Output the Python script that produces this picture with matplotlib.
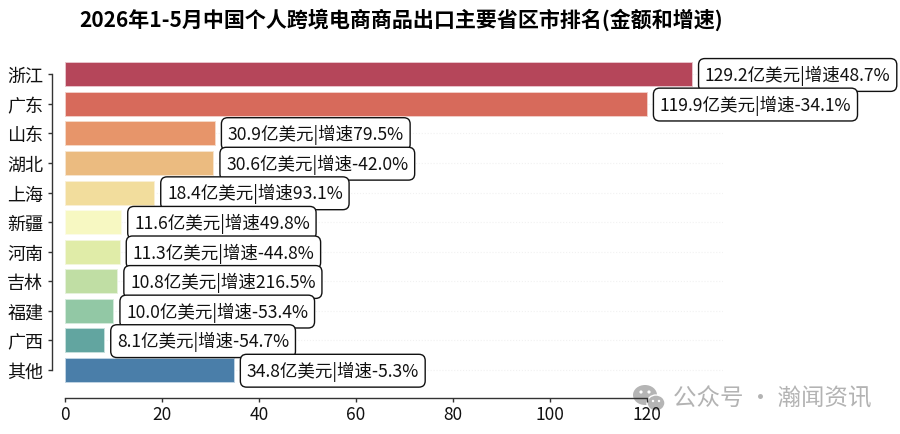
import matplotlib
matplotlib.use("Agg")
import matplotlib.pyplot as plt
from matplotlib.patches import Ellipse, Circle

plt.rcParams['font.family'] = ['Noto Sans CJK SC', 'DejaVu Sans']

regions = ['浙江', '广东', '山东', '湖北', '上海', '新疆', '河南', '吉林', '福建', '广西', '其他']
amounts = [129.2, 119.9, 30.9, 30.6, 18.4, 11.6, 11.3, 10.8, 10.0, 8.1, 34.8]
growth = ['48.7', '-34.1', '79.5', '-42.0', '93.1', '49.8', '-44.8', '216.5', '-53.4', '-54.7', '-5.3']
bar_colors = ['#b5465a', '#d76a5b', '#e7956a', '#ebbb80', '#f2dd9d', '#f7f8c2',
              '#e0eca8', '#c0dea4', '#92c8a5', '#62a5a0', '#4a7ea9']
edge_colors = ['#e8c4cb', '#f2cdc7', '#f6d9c7', '#f7e5cf', '#faf0d6', '#fcfce8',
               '#f3f7dc', '#e6f2dc', '#d4ebdc', '#c5dfdc', '#bfd3e3']

W, H = 900, 435
fig = plt.figure(figsize=(W / 100, H / 100), dpi=100)

# Account mark in the lower right corner, underneath the chart axes
overlay = fig.add_axes([0, 0, 1, 1], facecolor='none', zorder=0)
overlay.set_xlim(0, W)
overlay.set_ylim(H, 0)
overlay.axis('off')
overlay.add_patch(Ellipse((645, 396), 24, 20, facecolor='#b5b5b5', edgecolor='none'))
overlay.add_patch(Ellipse((656, 404), 18, 16, facecolor='#b5b5b5', edgecolor='white', linewidth=1))
for cx, cy, r in [(641, 393, 1.6), (649, 393, 1.6), (653, 402, 1.2), (659, 402, 1.2)]:
    overlay.add_patch(Circle((cx, cy), r, facecolor='white', edgecolor='none'))
overlay.text(673, 399, '公众号 · 瀚闻资讯', ha='left', va='center', fontsize=16.9, color='#b3b3b3')

ax = fig.add_axes([64.8 / W, 1 - 398.7 / H, (723.3 - 64.8) / W, (398.7 - 56) / H], facecolor='none', zorder=1)

ypos = list(range(len(regions)))
ax.barh(ypos, amounts, height=0.81, color=bar_colors, edgecolor=edge_colors, linewidth=0.7, zorder=2)

ax.set_xlim(0, 135.66)
ax.set_ylim(10 + (398.7 - 371) / 29.6, -(75.3 - 56) / 29.6)
ax.set_yticks(ypos, regions)
ax.set_xticks(range(0, 121, 20))
ax.tick_params(axis='both', length=3, width=1, color='#333333', labelcolor='#111111')
ax.tick_params(axis='x', labelsize=12.5, pad=2)
ax.tick_params(axis='y', labelsize=13, pad=3.5)

# Trimmed spines, with the category axis pulled away from the bars
for side in ('top', 'right'):
    ax.spines[side].set_visible(False)
ax.spines['left'].set_position(('outward', 9))
ax.spines['left'].set_bounds(0, 10)
ax.spines['bottom'].set_bounds(0, 120)
for side in ('left', 'bottom'):
    ax.spines[side].set_color('#333333')
    ax.spines[side].set_linewidth(1)

ax.grid(axis='y', linestyle=':', color='#d8d8d8', alpha=0.35, linewidth=0.8, zorder=0)
ax.set_axisbelow(True)

for y, amount, rate in zip(ypos, amounts, growth):
    ax.annotate(f'{amount:.1f}亿美元|增速{rate}%', xy=(amount, y), xytext=(9.3, -0.5),
                textcoords='offset points', va='center', ha='left', fontsize=12.6,
                color='#111111', zorder=4,
                bbox=dict(boxstyle='round,pad=0.36', facecolor='white', edgecolor='#111111', linewidth=1.0))

fig.text(401 / W, 1 - 20 / H, '2026年1-5月中国个人跨境电商商品出口主要省区市排名(金额和增速)',
         ha='center', va='center', fontsize=15.1, fontweight='bold', color='black')

fig.savefig('out.png', dpi=100)
